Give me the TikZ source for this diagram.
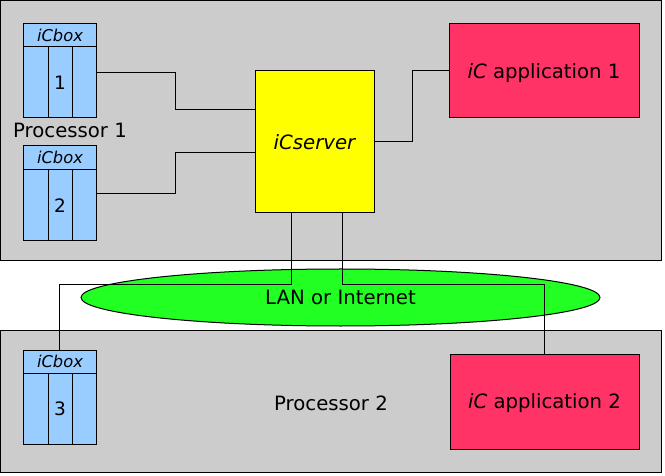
\documentclass[tikz,border=0pt]{standalone}
\usepackage{fontspec}
\setmainfont{DejaVu Sans}
\usetikzlibrary{shapes.geometric,calc}
\definecolor{bggray}{HTML}{CCCCCC}
\definecolor{boxblue}{HTML}{99CCFF}
\definecolor{appred}{HTML}{FF3366}
\definecolor{langreen}{HTML}{22FF22}
\definecolor{srvyellow}{HTML}{FFFF00}
\newcommand\mainsz{\fontsize{19.7bp}{23bp}\selectfont}
\newcommand\smallsz{\fontsize{16.3bp}{19bp}\selectfont}
\newcommand\digsz{\fontsize{18.5bp}{22bp}\selectfont}
\begin{document}
\begin{tikzpicture}[x=1bp,y=-1bp,
  every node/.style={inner sep=0pt,outer sep=0pt,text depth=0pt},
  mainfont/.style={font=\mainsz,text height=14.4bp},
  procbox/.style={draw=black,fill=bggray,line width=1bp,rectangle},
  hdrbox/.style={draw=black,fill=boxblue,line width=1bp,rectangle,minimum width=72bp,font=\smallsz\itshape,text height=11.9bp},
  bodybox/.style={draw=black,fill=boxblue,line width=1bp,rectangle,minimum width=72bp,minimum height=71bp,font=\digsz,text height=13.5bp},
  appbox/.style={draw=black,fill=appred,line width=1bp,rectangle,mainfont},
  srvbox/.style={draw=black,fill=srvyellow,line width=1bp,rectangle,mainfont,font=\mainsz\itshape},
  lanell/.style={draw=black,fill=langreen,line width=1bp,ellipse,mainfont},
  lbl/.style={mainfont},
  wire/.style={draw=black,line width=1bp}]
\useasboundingbox (0,0) rectangle (665,476);
% processors
\node[procbox,minimum width=661bp,minimum height=259.5bp] (p1) at (331,130.25) {};
\node[procbox,minimum width=661bp,minimum height=141bp] (p2) at (331,401.5) {};
\node[lbl] (p1lbl) at (70,130) {Processor 1};
\node[lbl] (p2lbl) at (331,403) {Processor 2};
% network
\node[lanell,minimum width=519bp,minimum height=57bp] (lan) at (340.5,297.5) {LAN or Internet};
% iCboxes
\node[hdrbox,minimum height=23bp] (h1) at (60,35.5) {iCbox};
\node[bodybox] (b1) at (60,82.5) {1};
\node[hdrbox,minimum height=24bp] (h2) at (60,158) {iCbox};
\node[bodybox] (b2) at (60,205.5) {2};
\node[hdrbox,minimum height=23bp] (h3) at (60,361.5) {iCbox};
\node[bodybox] (b3) at (60,408.5) {3};
\foreach \b in {b1,b2,b3}{
  \draw[wire] ($(\b.north west)!1/3!(\b.north east)$) -- ($(\b.south west)!1/3!(\b.south east)$);
  \draw[wire] ($(\b.north west)!2/3!(\b.north east)$) -- ($(\b.south west)!2/3!(\b.south east)$);
}
% server and applications
\node[srvbox,minimum width=119bp,minimum height=142bp] (srv) at (314.5,142) {iCserver};
\node[appbox,minimum width=190bp,minimum height=94bp] (app1) at (544,71) {{\itshape iC} application 1};
\node[appbox,minimum width=189bp,minimum height=95bp] (app2) at (544.5,401.5) {{\itshape iC} application 2};
% connectors
\draw[wire] ($(b1.east)+(0,-9.5)$) -- ++(79,0) |- ($(srv.west)+(0,-32)$);
\draw[wire] ($(b2.east)+(0,-11.5)$) -- ++(79,0) |- ($(srv.west)+(0,11)$);
\draw[wire] (srv.east) -- ++(38,0) |- (app1.west);
\draw[wire] ($(srv.south)+(-23.5,0)$) -- ++(0,71) -| ($(h3.north)+(-1,0)$);
\draw[wire] ($(srv.south)+(27.5,0)$) -- ++(0,71) -| (app2.north);
\end{tikzpicture}
\end{document}
